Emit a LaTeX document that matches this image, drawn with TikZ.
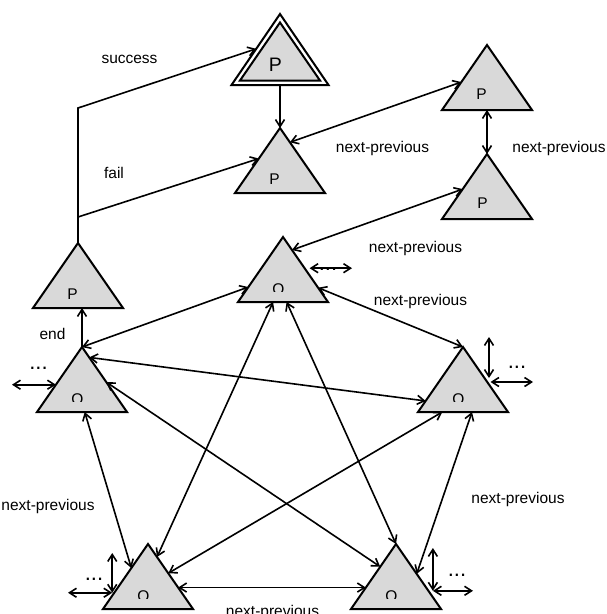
\documentclass[tikz,border=0pt]{standalone}
\usepackage{fontspec}
\setmainfont{Liberation Sans}
\usetikzlibrary{arrows.meta,calc}

\definecolor{trigray}{RGB}{217,217,217}

\tikzset{
  tri/.style={draw=black,line width=2pt,fill=trigray,line join=miter},
  link/.style={line width=1.6pt,{Straight Barb[length=7pt,width=9pt]}-{Straight Barb[length=7pt,width=9pt]}},
  oneway/.style={line width=1.6pt,-{Straight Barb[length=7pt,width=9pt]}},
  lab/.style={font=\fontsize{15.5}{18}\selectfont,inner sep=0pt},
  sym/.style={font=\fontsize{15.5}{18}\selectfont,inner sep=0pt,anchor=base},
  dots/.style={font=\fontsize{22}{24}\selectfont,inner sep=0pt,anchor=base},
}

% triangle with apex (#2,#3); corners named #1a, #1l, #1r
\newcommand\trinode[3]{%
  \coordinate (#1a) at (#2,#3);
  \coordinate (#1l) at ({#2-45},{#3+65});
  \coordinate (#1r) at ({#2+45},{#3+65});
  \draw[tri] (#1a) -- (#1l) -- (#1r) -- cycle;}

% letter inside a triangle, cut off below the line y=#4
\newcommand\trilabel[5]{%
  \begin{scope}
    \clip ({#2-15},{#3-20}) rectangle ({#2+15},#4);
    \node[sym] (#1) at (#2,#3) {#5};
  \end{scope}}

\begin{document}
\begin{tikzpicture}[x=1pt,y=-1pt]
\useasboundingbox (0,0) rectangle (607,614);

% ---- the double-framed top triangle
\coordinate (PTa) at (280,14);
\coordinate (PTl) at (231.5,85);
\coordinate (PTr) at (328.5,85);
\draw[tri,fill=white] (PTa) -- (PTl) -- (PTr) -- cycle;
\draw[tri] (280,22.5) -- (240,80.5) -- (320,80.5) -- cycle;
\node[sym,font=\fontsize{19.5}{22}\selectfont] (PTt) at (275.5,71) {P};

% ---- P triangles
\trinode{P2}{280}{128}
\trinode{PR1}{487}{45}
\trinode{PR2}{487}{154}
\trinode{PL}{78}{243}
\trilabel{P2t}{274.5}{184}{183}{P}
\trilabel{PLt}{72.5}{299}{298}{P}
\node[sym] (PR1t) at (481.5,99) {P};
\node[sym] (PR2t) at (482.5,208.5) {P};

% ---- Q triangles
\trinode{QT}{283}{237}
\trinode{QL}{82}{347}
\trinode{QR}{463}{347}
\trinode{QBL}{148}{544}
\trinode{QBR}{396}{544}
\trilabel{QTt}{278.5}{294}{291.5}{Q}
\trilabel{QLt}{77.5}{404}{401.5}{Q}
\trilabel{QRt}{458.5}{404}{401.5}{Q}
\trilabel{QBLt}{143.5}{601}{598.5}{Q}
\trilabel{QBRt}{391.5}{601}{598.5}{Q}

% ---- success / fail branches out of the left P
\coordinate (sb) at (78,108);
\coordinate (fb) at (78,217);
\draw[oneway,line join=miter] (PLa) -- (sb) -- ($(PTa)!0.49!(PTl)$);
\draw[oneway] (fb) -- ($(P2a)!0.47!(P2l)$);
\draw[oneway] (PTa |- PTl) -- (P2a);
\draw[oneway] (QLa) -- (QLa |- PLl);

% ---- links among the P triangles
\draw[link] ($(P2a)!0.22!(P2r)$) -- ($(PR1a)!0.57!(PR1l)$);
\draw[link] ($(PR1l)!0.5!(PR1r)$) -- (PR2a);
\draw[link] ($(QTa)!0.2!(QTr)$) -- ($(PR2a)!0.54!(PR2l)$);

% ---- complete graph on the Q triangles
\draw[link] ($(QTa)!0.77!(QTl)$) -- (QLa);
\draw[link] ($(QTa)!0.78!(QTr)$) -- (QRa);
\draw[link] ($(QTl)!0.39!(QTr)$) -- ($(QBLa)!0.2!(QBLr)$);
\draw[link] ($(QTl)!0.54!(QTr)$) -- (QBRa);
\draw[link] ($(QLa)!0.16!(QLr)$) -- ($(QRa)!0.83!(QRl)$);
\draw[link] ($(QLa)!0.54!(QLr)$) -- ($(QBRa)!0.35!(QBRl)$);
\draw[link] ($(QLl)!0.53!(QLr)$) -- ($(QBLa)!0.37!(QBLl)$);
\draw[link] ($(QRl)!0.27!(QRr)$) -- ($(QBLa)!0.45!(QBLr)$);
\draw[link] ($(QRl)!0.6!(QRr)$) -- ($(QBRa)!0.46!(QBRr)$);
\draw[link] ($(QBLa)!0.67!(QBLr)$) -- ($(QBRa)!0.67!(QBRl)$);

% ---- open-ended links with "..."
\coordinate (QTe) at ($(QTa)!0.48!(QTr)+(5,0)$);
\coordinate (QTx) at (352,268.5);
\draw[link] (QTe) -- (QTx |- QTe);
\node[dots] (QTd) at (328,270.5) {...};

\coordinate (QLe) at ($(QLa)!0.58!(QLl)$);
\coordinate (QLx) at (12,385);
\draw[link] (QLx |- QLe) -- (QLe);
\node[dots] (QLd) at (38.5,369.5) {...};

\coordinate (QRe) at ($(QRa)!0.5!(QRr)+(3.5,-1.5)$);
\coordinate (QRu) at (489,337);
\coordinate (QRh) at ($(QRa)!0.5!(QRr)+(5,2.5)$);
\coordinate (QRx) at (533,382);
\draw[link] (QRe) -- (QRe |- QRu);
\draw[link] (QRh) -- (QRx |- QRh);
\node[dots] (QRd) at (517,368) {...};

\coordinate (QBLe) at ($(QBLa)!0.75!(QBLl)+(-2,0)$);
\coordinate (QBLu) at (112,553);
\coordinate (QBLx) at (68,593);
\draw[link] (QBLe) -- (QBLe |- QBLu);
\draw[link] (QBLx |- QBLe) -- (QBLe);
\node[dots] (QBLd) at (94,580) {...};

\coordinate (QBRe) at ($(QBRa)!0.72!(QBRr)+(4.5,0)$);
\coordinate (QBRu) at (433,548);
\coordinate (QBRx) at (473,591);
\draw[link] (QBRe) -- (QBRe |- QBRu);
\draw[link] (QBRe) -- (QBRx |- QBRe);
\node[dots] (QBRd) at (457,576) {...};

% ---- edge labels
\node[lab] (lsucc) at (129.5,59) {success};
\node[lab] (lfail) at (114,173) {fail};
\node[lab,anchor=base] (lend) at (52.5,339) {end};
\node[lab] (np1) at (382.5,148.5) {next-previous};
\node[lab] (np2) at (559,148) {next-previous};
\node[lab] (np3) at (415.5,248.5) {next-previous};
\node[lab] (np4) at (420.5,301.5) {next-previous};
\node[lab] (np5) at (48,506) {next-previous};
\node[lab] (np6) at (518,499) {next-previous};
\node[lab] (np7) at (272.5,612) {next-previous};
\end{tikzpicture}
\end{document}
